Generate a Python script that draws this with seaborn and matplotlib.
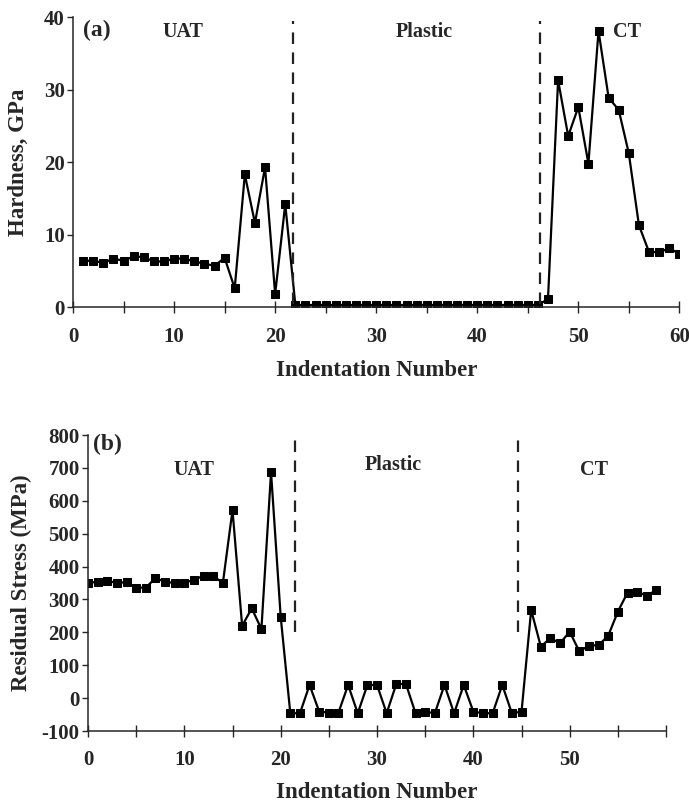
import numpy as np
import pandas as pd
import matplotlib
matplotlib.use("Agg")
import matplotlib.pyplot as plt
import seaborn as sns

# ---- data ----
hard_x = list(range(1, 61))
hard_y = [6.4, 6.4, 6.1, 6.7, 6.4, 7.0, 6.9, 6.3, 6.3, 6.7,
          6.7, 6.3, 6.0, 5.7, 6.8, 2.6, 18.3, 11.6, 19.3, 1.8,
          14.2, 0.3, 0.3, 0.3, 0.3, 0.3, 0.3, 0.3, 0.3, 0.3,
          0.3, 0.3, 0.3, 0.3, 0.3, 0.3, 0.3, 0.3, 0.3, 0.3,
          0.3, 0.3, 0.3, 0.3, 0.3, 0.3, 1.1, 31.3, 23.6, 27.6,
          19.8, 38.1, 28.9, 27.2, 21.2, 11.3, 7.6, 7.6, 8.1, 7.4]

stress_x = list(range(0, 60))
stress_y = [350, 354, 357, 350, 353, 336, 336, 365, 354, 350,
            350, 360, 372, 372, 350, 572, 220, 273, 210, 687,
            248, -46, -46, 40, -41, -44, -44, 40, -46, 40,
            40, -46, 43, 43, -46, -41, -46, 40, -46, 40,
            -41, -46, -46, 40, -46, -41, 268, 157, 182, 167,
            202, 142, 160, 161, 190, 263, 321, 324, 311, 329]

region_names = ["UAT", "Plastic", "CT"]
hard_bounds = [21.8, 46.2]
stress_bounds = [21.5, 44.6]
top_xticks = [0, 10, 20, 30, 40, 50, 60]
bot_xticks = [0, 10, 20, 30, 40, 50]

sns.set_style("ticks")
plt.rcParams['font.family'] = ['Liberation Serif', 'DejaVu Serif']
plt.rcParams['font.weight'] = 'bold'

fig = plt.figure(figsize=(6.89, 8.02), dpi=100)
ax1 = fig.add_axes([0.106, 0.617, 0.880, 0.3616])
ax2 = fig.add_axes([0.1277, 0.0885, 0.839, 0.369])

df1 = pd.DataFrame({"x": hard_x, "y": hard_y})
df2 = pd.DataFrame({"x": stress_x, "y": stress_y})

kw = dict(color="black", marker="s", markersize=5.3, linewidth=1.6,
          markeredgecolor="black")
sns.lineplot(data=df1, x="x", y="y", ax=ax1, **kw)
sns.lineplot(data=df2, x="x", y="y", ax=ax2, **kw)

dash = (0, (5.2, 3.8))
for b in hard_bounds:
    ax1.plot([b, b], [0.5, 39.5], color="#222222", linestyle=dash, linewidth=1.6)
for b in stress_bounds:
    ax2.plot([b, b], [200, 810], color="#222222", linestyle=dash, linewidth=1.6)

tfs = 15
lfs = 16.5
for ax in (ax1, ax2):
    ax.spines['top'].set_visible(False)
    ax.spines['right'].set_visible(False)
    ax.spines['left'].set_linewidth(1.1)
    ax.spines['bottom'].set_linewidth(1.1)
    ax.tick_params(axis='x', direction='inout', length=8, width=1.0, labelsize=tfs, pad=10)
    ax.tick_params(axis='y', direction='out', length=4, width=1.0, labelsize=tfs, pad=2)

ax1.set_xlim(0, 60)
ax1.set_ylim(0, 40)
ax1.set_xticks(np.arange(0, 61, 5))
ax1.set_xticklabels([str(t) if t in top_xticks else "" for t in np.arange(0, 61, 5)],
                    fontweight='bold', fontsize=tfs)
ax1.set_yticks([0, 10, 20, 30, 40])
ax1.set_yticklabels(["0", "10", "20", "30", "40"], fontweight='bold', fontsize=tfs)
ax1.set_xlabel("Indentation Number", fontsize=lfs, fontweight='bold', labelpad=10)
ax1.set_ylabel("Hardness, GPa", fontsize=lfs, fontweight='bold', labelpad=11)

ax2.set_xlim(0, 60)
ax2.set_ylim(-100, 800)
ax2.set_xticks(np.arange(0, 61, 5))
ax2.set_xticklabels([str(t) if t in bot_xticks else "" for t in np.arange(0, 61, 5)],
                    fontweight='bold', fontsize=tfs)
ax2.set_yticks(np.arange(-100, 801, 100))
ax2.set_yticklabels([str(v) for v in range(-100, 801, 100)], fontweight='bold', fontsize=tfs)
ax2.set_xlabel("Indentation Number", fontsize=lfs, fontweight='bold', labelpad=8)
ax2.set_ylabel("Residual Stress (MPa)", fontsize=lfs, fontweight='bold', labelpad=7)

ax1.text(1.0, 38.1, "(a)", fontsize=17, fontweight='bold', va='center', ha='left')
for name, xc, yc in zip(region_names, [10.9, 34.8, 54.8], [37.9, 37.9, 37.9]):
    ax1.text(xc, yc, name, fontsize=14.5, fontweight='bold', ha='center', va='center')

ax2.text(0.5, 773, "(b)", fontsize=17, fontweight='bold', va='center', ha='left')
for name, xc, yc in zip(region_names, [11.0, 31.7, 52.5], [694, 709, 694]):
    ax2.text(xc, yc, name, fontsize=14.5, fontweight='bold', ha='center', va='center')

fig.savefig("out.png", dpi=100)
